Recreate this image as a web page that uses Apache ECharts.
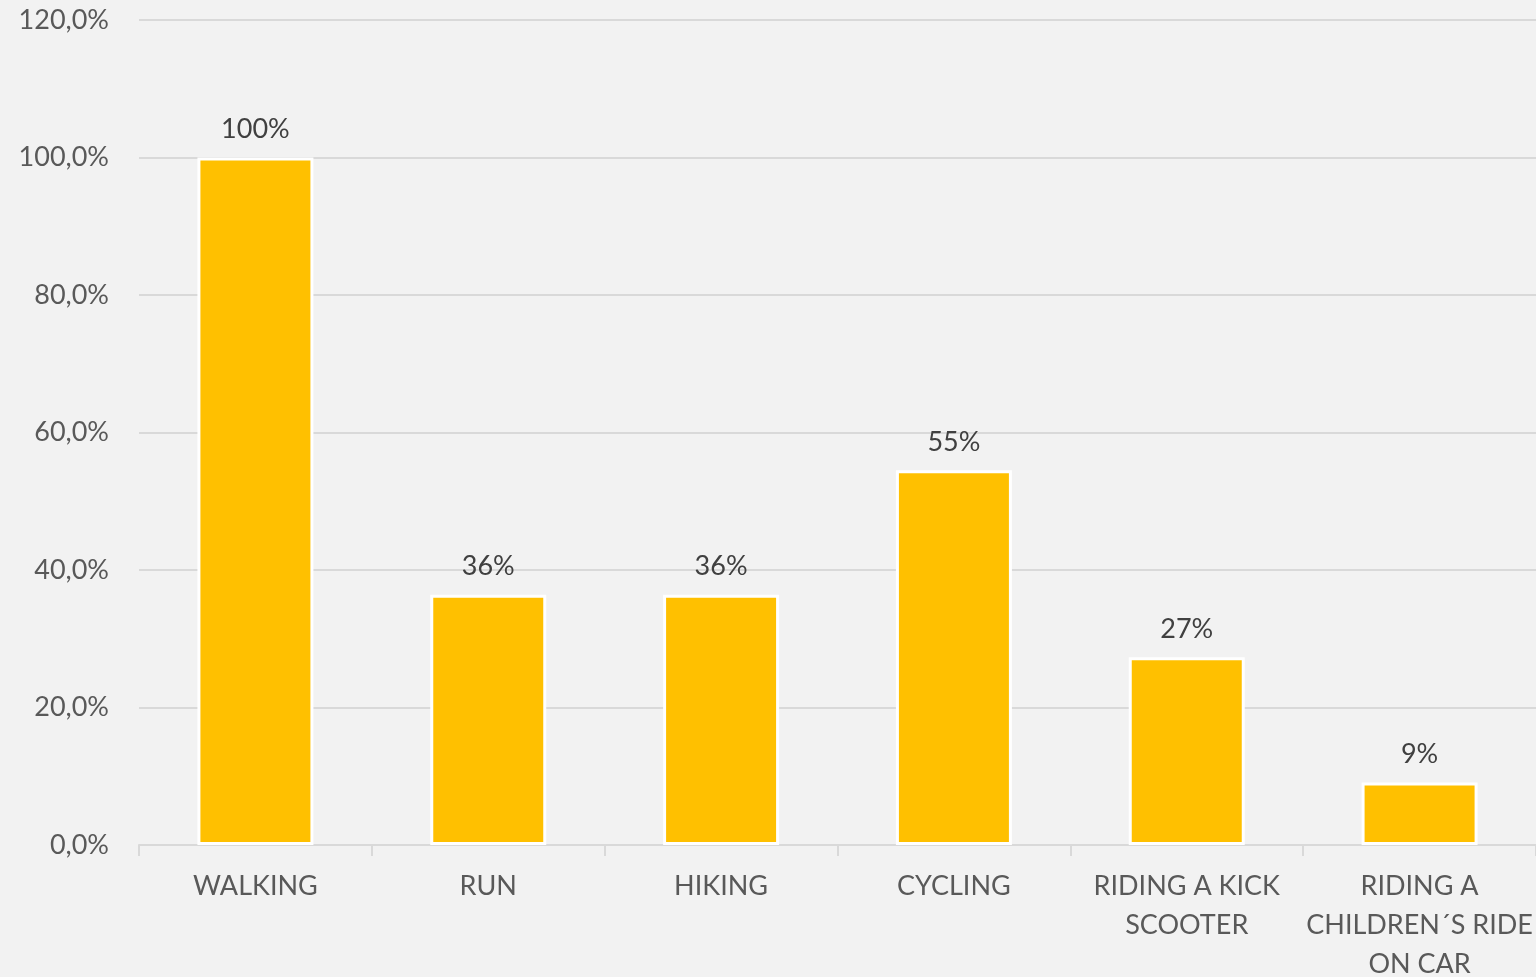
<!DOCTYPE html>
<html>
<head>
<meta charset="utf-8">
<script src="https://cdn.jsdelivr.net/npm/echarts@6/dist/echarts.min.js"></script>
<style>
  html, body { margin: 0; padding: 0; background: #f2f2f2; }
  #chart { width: 1536px; height: 977px; }
</style>
</head>
<body>
<div id="chart"></div>
<script>
// categories and values (percent of respondents)
var categories = [
  "WALKING",
  "RUN",
  "HIKING",
  "CYCLING",
  "RIDING A KICK\nSCOOTER",
  "RIDING A\nCHILDREN\u00b4S RIDE\nON CAR"
];
var values = [100, 36.4, 36.4, 54.5, 27.3, 9.1];
var yTicks = [0, 20, 40, 60, 80, 100, 120];

var chart = echarts.init(document.getElementById("chart"));

var option = {
  backgroundColor: "#f2f2f2",
  textStyle: { fontFamily: "Lato" },
  grid: { left: 139, right: 0, top: 20, bottom: 132, outerBoundsMode: "none", containLabel: false },
  xAxis: {
    type: "category",
    data: categories,
    axisLine: { lineStyle: { color: "#d9d9d9", width: 2 } },
    axisTick: { show: true, length: 11, lineStyle: { color: "#d9d9d9", width: 2 } },
    axisLabel: {
      color: "#595959",
      fontSize: 27,
      lineHeight: 39,
      margin: 22,
      interval: 0
    }
  },
  yAxis: {
    type: "value",
    min: yTicks[0],
    max: yTicks[yTicks.length - 1],
    interval: 20,
    axisLine: { show: false },
    axisTick: { show: false },
    splitLine: { lineStyle: { color: "#d9d9d9", width: 2 } },
    axisLabel: {
      color: "#595959",
      fontSize: 27,
      margin: 30,
      formatter: function (v) {
        return v.toFixed(1).replace(".", ",") + "%";
      }
    }
  },
  series: [
    {
      type: "bar",
      data: values,
      barWidth: 116,
      itemStyle: { color: "#ffc000", borderColor: "#ffffff", borderWidth: 3 },
      label: {
        show: true,
        position: "top",
        distance: 15,
        color: "#404040",
        fontSize: 27,
        formatter: function (p) {
          return Math.round(p.value) + "%";
        }
      }
    }
  ]
};

chart.setOption(option);
</script>
</body>
</html>
